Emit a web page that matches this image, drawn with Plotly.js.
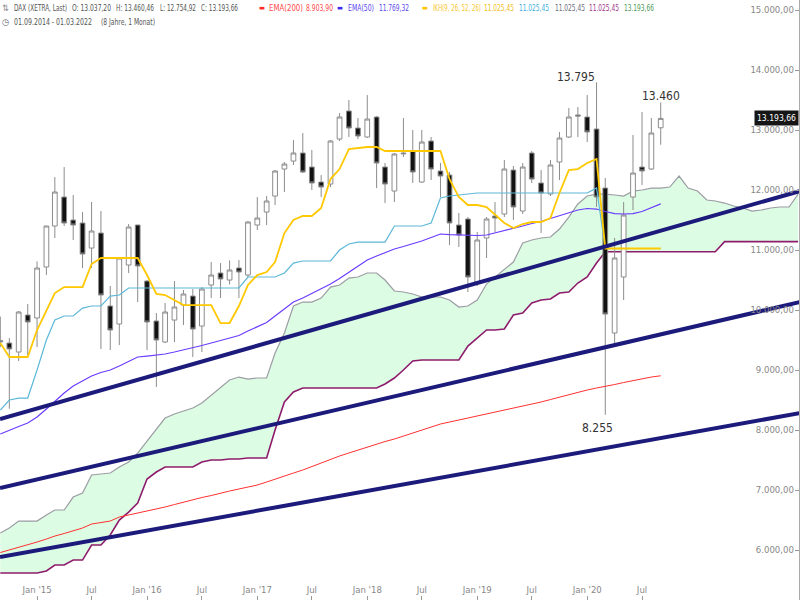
<!DOCTYPE html>
<html>
<head>
<meta charset="utf-8">
<script src="https://cdn.plot.ly/plotly-3.0.1.min.js"></script>
<style>
  html, body { margin: 0; padding: 0; background: #fff; }
  #chart { width: 800px; height: 600px; }
</style>
</head>
<body>
<div id="chart"></div>
<script>
// DAX monthly candles, Sep 2014 .. Sep 2020
var open = [9490, 9450, 9300, 9917, 9867, 10717, 11400, 11883, 11500, 11450,
  11033, 11283, 10067, 9767, 10750, 11417, 10483, 9817, 9467, 9833,
  10083, 10233, 9733, 10417, 10617, 10500, 10700, 10583, 11417, 11633,
  11900, 12350, 12483, 12617, 12383, 12133, 12100, 12850, 13317, 13033,
  12883, 13217, 12383, 11983, 12617, 12650, 12133, 12817, 12317, 12250,
  11417, 11517, 10467, 11200, 11567, 11600, 12333, 11650, 12617, 12117,
  11933, 12467, 12883, 13250, 13217, 13017, 12033, 9617, 10550, 11883,
  12383, 12350, 13037.20];
var high = [9891, 9533, 9983, 10100, 10810, 11402, 12217, 12383, 11917, 11633,
  11800, 11650, 10400, 10883, 11433, 11420, 10500, 9950, 10117, 10483,
  10333, 10350, 10383, 10800, 10783, 10827, 10833, 11483, 11883, 11900,
  12333, 12467, 12833, 12950, 12667, 12250, 12833, 13283, 13500, 13200,
  13583, 13233, 12450, 12617, 13200, 13000, 13000, 12883, 12450, 12300,
  11617, 11550, 11300, 11550, 11800, 12500, 12400, 12450, 12650, 12333,
  12500, 12967, 13367, 13383, 13583, 13795, 12200, 11200, 11800, 12917,
  13300, 13200, 13460.46];
var low = [9381, 8355, 9150, 9250, 9383, 10583, 11200, 11400, 11167, 10700,
  10700, 9350, 9333, 9417, 10617, 10133, 9333, 8717, 9450, 9467,
  9750, 9217, 9300, 10200, 10200, 10427, 10200, 10550, 11333, 11417,
  11750, 11967, 12417, 12283, 12000, 11883, 12050, 12817, 12883, 12850,
  12867, 12033, 11783, 11800, 12550, 12117, 12117, 12167, 11883, 11083,
  11050, 10300, 10400, 10867, 11300, 11550, 11500, 11600, 12117, 11283,
  11900, 12167, 12867, 12883, 12800, 11717, 8255, 9417, 10167, 11667,
  12083, 12333, 12754.92];
var close = [9470, 9350, 9967, 9800, 10700, 11400, 11967, 11450, 11417, 10933,
  11317, 10250, 9667, 10867, 11383, 10733, 9800, 9500, 9967, 10050,
  10267, 9683, 10350, 10583, 10517, 10667, 10633, 11467, 11533, 11817,
  12317, 12433, 12617, 12300, 12117, 12050, 12817, 13217, 13033, 12900,
  13183, 12450, 12100, 12600, 12605, 12300, 12800, 12350, 12233, 11450,
  11250, 10550, 11167, 11517, 11533, 12350, 11717, 12383, 12183, 11950,
  12417, 12867, 13217, 13233, 12967, 11883, 9933, 10867, 11583, 12283,
  12317, 12950, 13193.66];

// indicators, one value per candle
var ema200 = [5958, 6000, 6042, 6083, 6133, 6183, 6233, 6275, 6317, 6367,
  6433, 6458, 6483, 6550, 6583, 6625, 6650, 6683, 6717, 6758,
  6800, 6833, 6875, 6908, 6950, 6983, 7017, 7050, 7083, 7133,
  7183, 7233, 7283, 7333, 7392, 7450, 7508, 7567, 7617, 7667,
  7717, 7767, 7808, 7850, 7900, 7950, 8000, 8050, 8100, 8133,
  8167, 8200, 8233, 8258, 8300, 8325, 8358, 8400, 8433, 8467,
  8508, 8550, 8592, 8633, 8667, 8700, 8725, 8758, 8792, 8825,
  8858, 8883, 8904];
var ema50 = [7933, 8000, 8058, 8117, 8217, 8350, 8483, 8617, 8733, 8817,
  8900, 8958, 9000, 9067, 9150, 9217, 9233, 9250, 9267, 9300,
  9333, 9367, 9408, 9450, 9492, 9533, 9575, 9650, 9717, 9792,
  9900, 10025, 10133, 10200, 10275, 10342, 10433, 10525, 10625, 10725,
  10833, 10900, 10958, 11017, 11058, 11100, 11150, 11208, 11267, 11258,
  11250, 11242, 11242, 11250, 11283, 11325, 11367, 11400, 11442, 11475,
  11525, 11575, 11617, 11667, 11692, 11683, 11642, 11608, 11600, 11608,
  11642, 11700, 11769];
var tenkan = [9450, 9217, 9217, 9217, 9667, 10000, 10283, 10383, 10383, 10383,
  10767, 10867, 10867, 10867, 10867, 10867, 10583, 10267, 10250, 10167,
  10083, 10083, 10083, 10083, 9783, 9783, 10067, 10417, 10583, 10633,
  10800, 11283, 11500, 11567, 11567, 11700, 12183, 12350, 12683, 12700,
  12717, 12717, 12650, 12650, 12650, 12650, 12650, 12650, 12650, 12183,
  11883, 11750, 11750, 11717, 11583, 11450, 11367, 11433, 11467, 11467,
  11533, 11950, 12333, 12350, 12450, 12517, 11025, 11025, 11025, 11025,
  11025, 11025, 11025];
var kijun = [8333, 8500, 8533, 8533, 9000, 9500, 9833, 9900, 9900, 10033,
  10067, 10067, 10233, 10250, 10367, 10367, 10367, 10367, 10367, 10367,
  10367, 10367, 10367, 10367, 10367, 10367, 10367, 10550, 10550, 10550,
  10550, 10617, 10783, 10817, 10817, 10817, 10817, 11000, 11100, 11133,
  11133, 11133, 11133, 11400, 11400, 11400, 11400, 11450, 11867, 11900,
  11917, 11933, 11950, 11950, 11950, 11950, 11950, 11950, 11950, 11950,
  11950, 11950, 11950, 11950, 11950, 12033, 11025, 11025, 11025, 11025,
  11025, 11025, 11025];

// cloud, Sep 2014 .. Dec 2021 (already shifted forward)
var senkouA = [6283, 6367, 6483, 6483, 6483, 6583, 6667, 6667, 6883, 6950,
  7250, 7267, 7283, 7383, 7467, 7617, 7817, 8033, 8200, 8267,
  8317, 8367, 8450, 8583, 8717, 8833, 8883, 8850, 8867, 8867,
  9283, 9617, 10067, 10133, 10133, 10200, 10383, 10417, 10533, 10550,
  10617, 10617, 10500, 10317, 10300, 10267, 10217, 10217, 10217, 10167,
  10050, 10067, 10167, 10433, 10550, 10667, 10800, 11117, 11167, 11200,
  11217, 11350, 11550, 11767, 11900, 11933, 11933, 11917, 11900, 11983,
  12000, 12033, 12033, 12050, 12233, 12033, 11983, 11833, 11817, 11783,
  11733, 11700, 11650, 11667, 11700, 11717, 11717, 11933];
var senkouB = [5617, 5617, 5617, 5617, 5617, 5650, 5750, 5750, 5833, 5833,
  6083, 6083, 6250, 6500, 6633, 6783, 7183, 7300, 7383, 7383,
  7383, 7383, 7467, 7500, 7500, 7517, 7517, 7533, 7533, 7533,
  8000, 8467, 8633, 8700, 8700, 8700, 8700, 8700, 8700, 8700,
  8700, 8700, 8767, 8867, 9000, 9150, 9167, 9167, 9167, 9167,
  9167, 9400, 9533, 9667, 9667, 9683, 9917, 9950, 10117, 10167,
  10183, 10283, 10300, 10450, 10550, 10783, 10970, 10970, 10970, 10970,
  10970, 10970, 10970, 10970, 10970, 10970, 10970, 10970, 10970, 11140,
  11140, 11140, 11140, 11140, 11140, 11140, 11140, 11140];

// hand drawn trend channel
var trendDates = ['2014-08-31', '2021-12-07'];
var trendUpper = [8183, 11983];
var trendMiddle = [7033, 10133];
var trendLower = [5883, 8283];

// legend values and marked extremes
var lastOHLC = [13037.20, 13460.46, 12754.92, 13193.66];
var emaLast = [8903.90, 11769.32];
var ikhLast = [11025.45, 11025.45, 11025.45, 11025.45, 13193.66];
var peakDates = ['2020-02-01', '2020-09-01', '2020-03-01'];
var peakValues = [13795, 13460, 8255];

var tickDates = ['2015-01-01', '2015-07-01', '2016-01-01', '2016-07-01', '2017-01-01', '2017-07-01',
  '2018-01-01', '2018-07-01', '2019-01-01', '2019-07-01', '2020-01-01', '2020-07-01'];
var tickText = ["Jan '15", 'Jul', "Jan '16", 'Jul', "Jan '17", 'Jul',
  "Jan '18", 'Jul', "Jan '19", 'Jul', "Jan '20", 'Jul'];
var priceTicks = [6000, 7000, 8000, 9000, 10000, 11000, 12000, 13000, 14000, 15000];

function monthDates(year, month, count) {
  var out = [];
  for (var i = 0; i < count; i++) {
    var m = month - 1 + i;
    var y = year + Math.floor(m / 12);
    var mm = (m % 12) + 1;
    out.push(y + '-' + (mm < 10 ? '0' : '') + mm + '-01');
  }
  return out;
}
function de(v, digits) {
  var s = v.toFixed(digits).split('.');
  var int = s[0].replace(/\B(?=(\d{3})+(?!\d))/g, '.');
  return s.length > 1 ? int + ',' + s[1] : int;
}

var candleDates = monthDates(2014, 9, close.length);
var cloudDates = monthDates(2014, 9, senkouA.length);

var narrow = 'Liberation Sans Narrow, Arial Narrow, DejaVu Sans Condensed, sans-serif';

function line(x, y, color, width, top) {
  return {
    type: 'scatter', mode: 'lines', x: x, y: y,
    xaxis: top ? 'x2' : 'x', yaxis: top ? 'y2' : 'y',
    line: {color: color, width: width}, hoverinfo: 'skip'
  };
}

var data = [
  // cloud (bottom layer)
  line(cloudDates, senkouB, 'rgba(0,0,0,0)', 0),
  Object.assign(line(cloudDates, senkouA, 'rgba(0,0,0,0)', 0), {fill: 'tonexty', fillcolor: '#dcfce3'}),
  line(cloudDates, senkouA, '#9c9ca4', 1.2),
  line(cloudDates, senkouB, '#8e1c6c', 1.6),
  // candles on overlay axes so they sit above the cloud
  {
    type: 'candlestick', x: candleDates, open: open, high: high, low: low, close: close,
    xaxis: 'x2', yaxis: 'y2', whiskerwidth: 0, hoverinfo: 'skip',
    increasing: {line: {color: '#8c8c8c', width: 1}, fillcolor: '#ffffff'},
    decreasing: {line: {color: '#8c8c8c', width: 1}, fillcolor: '#121212'}
  },
  line(candleDates, ema200, '#ff3030', 1, true),
  line(candleDates, ema50, '#6b3cff', 1.2, true),
  line(candleDates, kijun, '#5cb8d8', 1.2, true),
  line(candleDates, tenkan, '#ffc800', 1.8, true),
  line(trendDates, trendUpper, '#1c1a7a', 4, true),
  line(trendDates, trendMiddle, '#1c1a7a', 4, true),
  line(trendDates, trendLower, '#1c1a7a', 4, true)
];

// header legend: [text, left px, top px, colour, size, width px]
var dash = '\u25AC';
var header = [
  ['\u21C5', 1, 2, '#8a8a8a', 9, 8],
  ['DAX (XETRA, Last)', 13, 2, '#555', 9, 53],
  ['O: ' + de(lastOHLC[0], 2), 71, 2, '#555', 9, 39],
  ['H: ' + de(lastOHLC[1], 2), 115, 2, '#555', 9, 38],
  ['L: ' + de(lastOHLC[2], 2), 159, 2, '#555', 9, 36],
  ['C: ' + de(lastOHLC[3], 2), 200, 2, '#555', 9, 37],
  [dash, 258, 3, '#ff2a2a', 7, 6],
  ['EMA(200)', 268, 2, '#ff4a4a', 9, 34],
  [de(emaLast[0], 2), 305, 2, '#ff4a4a', 9, 27],
  [dash, 336, 3, '#3f2cf0', 7, 6],
  ['EMA(50)', 347, 2, '#5a48f0', 9, 26],
  [de(emaLast[1], 2), 378, 2, '#5a48f0', 9, 30],
  [dash, 421, 3, '#ffc400', 7, 6],
  ['IKH(9, 26, 52, 26)', 432, 2, '#f8c52a', 9, 48],
  [de(ikhLast[0], 2), 483, 2, '#f0be20', 9, 30],
  [de(ikhLast[1], 2), 518, 2, '#3fb0dc', 9, 30],
  [de(ikhLast[2], 2), 554, 2, '#6e6e80', 9, 30],
  [de(ikhLast[3], 2), 588, 2, '#a0388a', 9, 30],
  [de(ikhLast[4], 2), 623, 2, '#4f9a55', 9, 30],
  ['\u25F7', 1, 16, '#666', 9, 9],
  ['01.09.2014 - 01.03.2022', 13, 16, '#555', 9, 78],
  ['(8 Jahre, 1 Monat)', 100, 16, '#555', 9, 54]
];

var annotations = header.map(function (h) {
  return {xref: 'paper', yref: 'paper', x: 0, y: 1, xanchor: 'left', yanchor: 'top',
    xshift: h[1], yshift: -h[2], showarrow: false, borderpad: 0, align: 'left',
    width: h[5], text: h[0], font: {family: narrow, size: h[4], color: h[3]}};
});

annotations.push(
  {x: peakDates[0], y: peakValues[0], xanchor: 'right', yanchor: 'bottom', xshift: 0, yshift: -4,
   showarrow: false, text: de(peakValues[0], 0), font: {family: narrow, size: 12, color: '#333'}},
  {x: peakDates[1], y: peakValues[1], xanchor: 'center', yanchor: 'bottom', yshift: -3,
   showarrow: false, text: de(peakValues[1], 0), font: {family: narrow, size: 12, color: '#333'}},
  {x: peakDates[2], y: peakValues[2], xanchor: 'right', yanchor: 'top', xshift: 10, yshift: -4,
   showarrow: false, text: de(peakValues[2], 0), font: {family: narrow, size: 12, color: '#333'}},
  {xref: 'paper', x: 1, y: lastOHLC[3], xanchor: 'right', yanchor: 'middle', xshift: 0,
   showarrow: false, text: de(lastOHLC[3], 2), bgcolor: '#161616', borderpad: 2,
   font: {family: narrow, size: 8.5, color: '#fff'}}
);

var layout = {
  width: 800, height: 600,
  margin: {l: 0, r: 1, t: 0, b: 0},
  paper_bgcolor: '#fff', plot_bgcolor: '#fff',
  separators: ',.',
  showlegend: false,
  boxgap: 0.2,
  font: {family: narrow, size: 10, color: '#888'},
  xaxis: {
    type: 'date', range: ['2014-08-31', '2021-12-04'],
    tickmode: 'array', tickvals: tickDates, ticktext: tickText,
    ticks: 'inside', ticklen: 4, tickcolor: '#999', ticklabelposition: 'inside',
    tickfont: {family: narrow, size: 9.5, color: '#888'},
    showgrid: false, zeroline: false, showline: false,
    rangeslider: {visible: false}, fixedrange: true
  },
  xaxis2: {type: 'date', range: ['2014-08-31', '2021-12-04'], overlaying: 'x', visible: false,
    rangeslider: {visible: false}, fixedrange: true},
  yaxis: {
    range: [5167, 15167], side: 'right',
    tickmode: 'array', tickvals: priceTicks, tickformat: ',.2f',
    ticks: 'inside', ticklen: 4, tickcolor: '#999', ticklabelposition: 'inside',
    ticklabeloverflow: 'allow',
    tickfont: {family: narrow, size: 9.5, color: '#888'},
    showline: true, linecolor: '#aaa', showgrid: false, zeroline: false, fixedrange: true
  },
  yaxis2: {range: [5167, 15167], overlaying: 'y', side: 'right', visible: false, fixedrange: true},
  annotations: annotations,
  shapes: [
    {type: 'path', xref: 'paper', yref: 'y', layer: 'above',
     path: 'M 0.955,' + (lastOHLC[3] + 110) + ' L 0.947,' + lastOHLC[3] + ' L 0.955,' + (lastOHLC[3] - 110) + ' Z',
     fillcolor: '#161616', line: {width: 0}}
  ]
};

Plotly.newPlot('chart', data, layout, {staticPlot: true, displayModeBar: false}).then(function (gd) {
  // the legend font is condensed: fit each header piece to its width, kept left aligned
  header.forEach(function (h, i) {
    var t = gd.querySelector('g.annotation[data-index="' + i + '"] text.annotation-text');
    if (!t || t.getComputedTextLength() <= h[5]) return;
    t.setAttribute('textLength', h[5]);
    t.setAttribute('lengthAdjust', 'spacingAndGlyphs');
  });
});
</script>
</body>
</html>
